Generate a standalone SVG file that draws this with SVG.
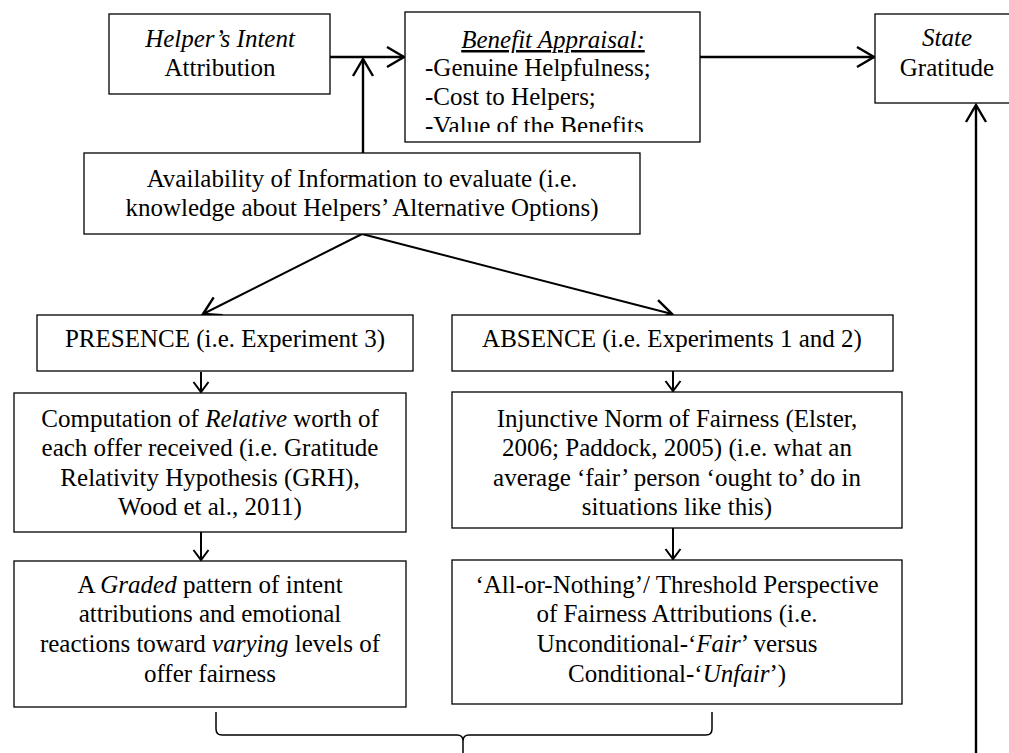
<svg xmlns="http://www.w3.org/2000/svg" width="1009" height="753" viewBox="0 0 1009 753">
  <style>
    .box { fill: #ffffff; stroke: #000000; stroke-width: 1.3; }
    .t { font-family: "Liberation Serif", "Times New Roman", serif; font-size: 25px; fill: #000000; }
    .c { text-anchor: middle; }
    .i { font-style: italic; }
    .wire { fill: none; stroke: #000000; stroke-width: 2.4; }
    .wire-thin { fill: none; stroke: #000000; stroke-width: 2; }
    .brace { fill: none; stroke: #000000; stroke-width: 1.5; }
  </style>
  <defs>
    <marker id="head-big" viewBox="-20 -13 22 26" refX="0" refY="0" markerWidth="22" markerHeight="26" markerUnits="userSpaceOnUse" orient="auto">
      <path d="M-17,-10 L0,0 L-17,10" fill="none" stroke="#000000" stroke-width="2.4"/>
    </marker>
    <marker id="head-small" viewBox="-12 -10 14 20" refX="0" refY="0" markerWidth="14" markerHeight="20" markerUnits="userSpaceOnUse" orient="auto">
      <path d="M-10,-7.5 L0,0 L-10,7.5" fill="none" stroke="#000000" stroke-width="2"/>
    </marker>
    <clipPath id="benefit-clip">
      <rect x="405" y="12" width="295" height="120"/>
    </clipPath>
  </defs>

  <rect width="1009" height="753" fill="#ffffff"/>

  <!-- connectors -->
  <g id="connectors">
    <line class="wire" x1="330" y1="57" x2="404" y2="57" marker-end="url(#head-big)"/>
    <line class="wire" x1="363" y1="153" x2="363" y2="59" marker-end="url(#head-big)"/>
    <line class="wire" x1="700" y1="57" x2="874" y2="57" marker-end="url(#head-big)"/>
    <line class="wire" x1="976" y1="753" x2="976" y2="105" marker-end="url(#head-big)"/>
    <line class="wire-thin" x1="362" y1="234" x2="203" y2="314" marker-end="url(#head-big)"/>
    <line class="wire-thin" x1="362" y1="234" x2="672" y2="314" marker-end="url(#head-big)"/>
    <line class="wire-thin" x1="201" y1="372" x2="201" y2="392" marker-end="url(#head-small)"/>
    <line class="wire-thin" x1="201" y1="532" x2="201" y2="560" marker-end="url(#head-small)"/>
    <line class="wire-thin" x1="673" y1="371" x2="673" y2="391" marker-end="url(#head-small)"/>
    <line class="wire-thin" x1="673" y1="528" x2="673" y2="559" marker-end="url(#head-small)"/>
    <path class="brace" d="M216,712 L216,729 Q216,735 222,735 L457,735 Q463,735 463,741 L463,753 M463,741 Q463,735 469,735 L706,735 Q712,735 712,729 L712,712"/>
  </g>

  <g id="helper-intent">
    <rect class="box" x="109" y="14" width="221" height="80"/>
    <text class="t c i" x="220" y="47">Helper’s Intent</text>
    <text class="t c" x="220" y="76">Attribution</text>
  </g>

  <g id="benefit-appraisal">
    <rect class="box" x="405" y="12" width="295" height="130"/>
    <text class="t c i" x="553" y="48" text-decoration="underline">Benefit Appraisal:</text>
    <g clip-path="url(#benefit-clip)">
      <text class="t" x="425" y="76">-Genuine Helpfulness;</text>
      <text class="t" x="425" y="105">-Cost to Helpers;</text>
      <text class="t" x="425" y="134">-Value of the Benefits</text>
    </g>
  </g>

  <g id="state-gratitude">
    <rect class="box" x="875" y="14" width="144" height="89"/>
    <text class="t c i" x="947" y="46">State</text>
    <text class="t c" x="947" y="76">Gratitude</text>
  </g>

  <g id="availability">
    <rect class="box" x="84" y="153" width="556" height="81"/>
    <text class="t c" x="362" y="187">Availability of Information to evaluate (i.e.</text>
    <text class="t c" x="362" y="216">knowledge about Helpers’ Alternative Options)</text>
  </g>

  <g id="presence">
    <rect class="box" x="37" y="315" width="376" height="56"/>
    <text class="t c" x="225" y="347">PRESENCE (i.e. Experiment 3)</text>
  </g>

  <g id="absence">
    <rect class="box" x="452" y="315" width="441" height="56"/>
    <text class="t c" x="672" y="347">ABSENCE (i.e. Experiments 1 and 2)</text>
  </g>

  <g id="relative-worth">
    <rect class="box" x="14" y="393" width="392" height="139"/>
    <text class="t c" x="210" y="427">Computation of <tspan class="i">Relative</tspan> worth of</text>
    <text class="t c" x="210" y="456">each offer received (i.e. Gratitude</text>
    <text class="t c" x="210" y="486">Relativity Hypothesis (GRH),</text>
    <text class="t c" x="210" y="515">Wood et al., 2011)</text>
  </g>

  <g id="injunctive-norm">
    <rect class="box" x="452" y="392" width="450" height="136"/>
    <text class="t c" x="677" y="427">Injunctive Norm of Fairness (Elster,</text>
    <text class="t c" x="677" y="456">2006; Paddock, 2005) (i.e. what an</text>
    <text class="t c" x="677" y="486">average ‘fair’ person ‘ought to’ do in</text>
    <text class="t c" x="677" y="515">situations like this)</text>
  </g>

  <g id="graded-pattern">
    <rect class="box" x="14" y="561" width="392" height="146"/>
    <text class="t c" x="210" y="593">A <tspan class="i">Graded</tspan> pattern of intent</text>
    <text class="t c" x="210" y="622">attributions and emotional</text>
    <text class="t c" x="210" y="652">reactions toward <tspan class="i">varying</tspan> levels of</text>
    <text class="t c" x="210" y="682">offer fairness</text>
  </g>

  <g id="threshold-perspective">
    <rect class="box" x="452" y="560" width="450" height="144"/>
    <text class="t c" x="677" y="593">‘All-or-Nothing’/ Threshold Perspective</text>
    <text class="t c" x="677" y="622">of Fairness Attributions (i.e.</text>
    <text class="t c" x="677" y="652">Unconditional-‘<tspan class="i">Fair</tspan>’ versus</text>
    <text class="t c" x="677" y="682">Conditional-‘<tspan class="i">Unfair</tspan>’)</text>
  </g>
</svg>
